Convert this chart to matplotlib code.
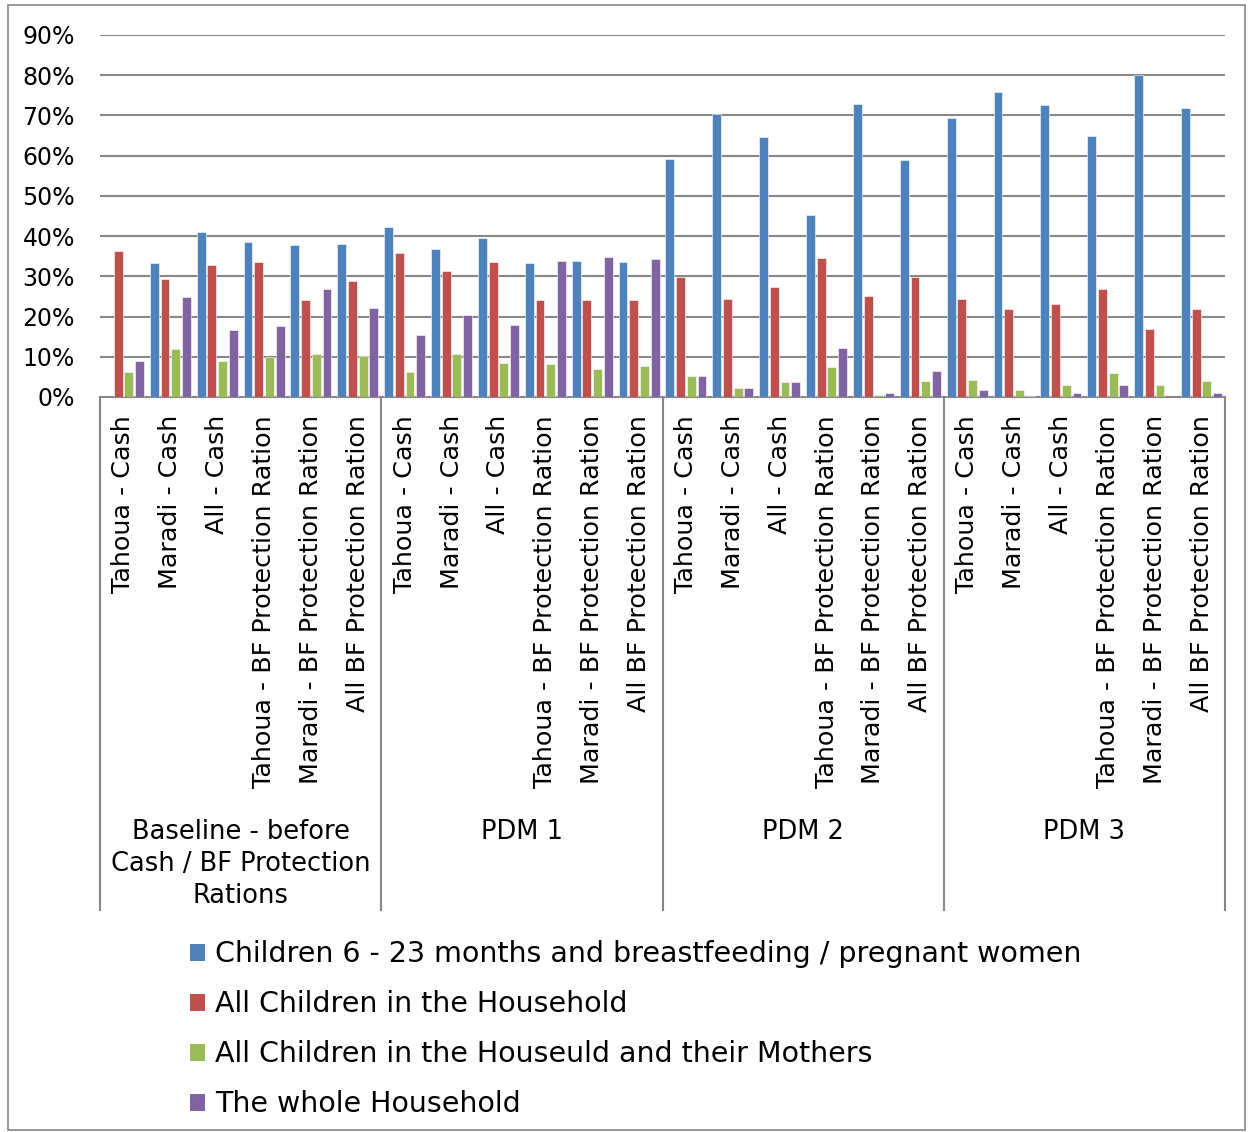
import matplotlib
matplotlib.use('Agg')
import numpy as np
import matplotlib.pyplot as plt
from matplotlib.patches import Patch, Rectangle
#
# data (in %)
#
categories = ['Tahoua - Cash', 'Maradi - Cash', 'All - Cash',
              'Tahoua - BF Protection Ration', 'Maradi - BF Protection Ration',
              'All BF Protection Ration'] * 4
groups = ['Baseline - before\nCash / BF Protection\nRations', 'PDM 1', 'PDM 2', 'PDM 3']
series_names = ['Children 6 - 23 months and breastfeeding / pregnant women',
                'All Children in the Household',
                'All Children in the Houseuld and their Mothers',
                'The whole Household']
children_6_23 = [0.0, 33.4, 41.0, 38.5, 37.8, 38.1,
                 42.3, 36.8, 39.6, 33.3, 33.7, 33.5,
                 59.2, 70.3, 64.7, 45.3, 72.9, 58.8,
                 69.4, 75.7, 72.5, 64.9, 80.0, 71.8]
all_children = [36.3, 29.3, 32.9, 33.5, 24.2, 28.8,
                35.7, 31.3, 33.5, 24.1, 24.0, 24.1,
                29.9, 24.4, 27.3, 34.6, 25.2, 29.9,
                24.4, 21.8, 23.0, 26.9, 16.9, 21.8]
children_mothers = [6.2, 11.9, 8.9, 9.9, 10.6, 10.2,
                    6.1, 10.8, 8.4, 8.3, 6.9, 7.7,
                    5.1, 2.3, 3.7, 7.4, 0.5, 4.1,
                    4.2, 1.7, 2.9, 5.9, 2.9, 3.9]
whole_household = [8.9, 24.8, 16.6, 17.6, 26.9, 22.2,
                   15.3, 20.4, 17.8, 33.7, 34.9, 34.2,
                   5.1, 2.3, 3.7, 12.2, 1.0, 6.5,
                   1.7, 0.3, 0.9, 2.9, 0.0, 0.9]
colors = ['#4F81BD', '#C0504D', '#9BBB59', '#8064A2']
#
plt.rcParams['font.family'] = ['DejaVu Sans']
fig = plt.figure(figsize=(12.5, 11.32), dpi=100)
ax = fig.add_axes([0.08, 0.6493, 0.90, 0.3198])
#
x = np.arange(len(categories))
pitch = 0.228
width = 0.19
all_series = [children_6_23, all_children, children_mothers, whole_household]
for i, (vals, col) in enumerate(zip(all_series, colors)):
    ax.bar(x + (i - 1.5) * pitch, vals, width, color=col,
           edgecolor='white', linewidth=0.4, zorder=3)
#
ax.set_xlim(-0.5, len(categories) - 0.5)
ax.set_ylim(0, 90)
ax.set_yticks(np.arange(0, 91, 10))
ax.set_yticklabels([f'{v}%' for v in range(0, 91, 10)], fontsize=17)
ax.grid(axis='y', color='#878787', linewidth=1.5, zorder=0)
for s in ['top', 'right', 'left']:
    ax.spines[s].set_visible(False)
ax.spines['bottom'].set_color('#878787')
ax.spines['bottom'].set_linewidth(1.5)
ax.tick_params(axis='y', length=0, pad=18)
ax.set_xticks(x)
ax.set_xticklabels(categories, rotation=90, fontsize=18.3, va='top')
ax.tick_params(axis='x', length=0, pad=13)
#
# group separators and group labels
sep_y = -1.417
for k in range(5):
    xs = k * 6 - 0.5
    ax.plot([xs, xs], [0, sep_y], transform=ax.get_xaxis_transform(),
            color='#878787', linewidth=1.5, clip_on=False)
for k, g in enumerate(groups):
    ax.text(k * 6 + 2.5, -1.166, g, transform=ax.get_xaxis_transform(),
            ha='center', va='top', fontsize=18.5, linespacing=1.3)
#
handles = [Patch(facecolor=c, edgecolor='none') for c in colors]
fig.legend(handles, series_names, loc='upper left',
           bbox_to_anchor=(0.1404, 0.182), frameon=False, fontsize=20.5,
           handlelength=0.55, handleheight=0.55, handletextpad=0.35,
           labelspacing=0.775, borderpad=0)
#
fig.patches.append(Rectangle((8 / 1250, 0.002), 1237 / 1250, 1 - 7 / 1132,
                             transform=fig.transFigure, fill=False,
                             edgecolor='#878787', linewidth=1.2))
#
plt.savefig('out.png', dpi=100)
